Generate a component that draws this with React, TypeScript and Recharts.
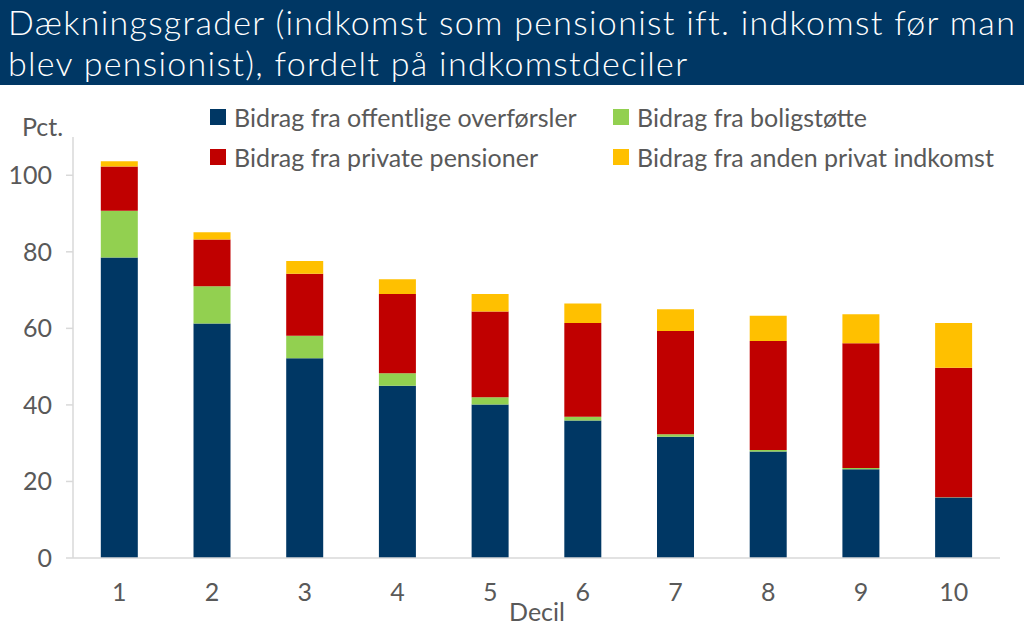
import React from 'react';
import { BarChart, Bar, XAxis, YAxis } from 'recharts';

const deciles = ['1', '2', '3', '4', '5', '6', '7', '8', '9', '10'];
const offentlige = [78.5, 61.3, 52.2, 45.0, 40.1, 35.9, 31.7, 27.8, 23.2, 15.8];
const boligstotte = [12.2, 9.7, 5.9, 3.3, 1.9, 1.0, 0.65, 0.45, 0.3, 0.1];
const privatePension = [11.6, 12.2, 16.2, 20.65, 22.4, 24.5, 26.95, 28.45, 32.6, 33.8];
const andenPrivat = [1.35, 1.9, 3.3, 3.85, 4.55, 5.1, 5.7, 6.6, 7.6, 11.7];
const yTicks = [0, 20, 40, 60, 80, 100];
const boundaryTicks = [0, 1, 2, 3, 4, 5, 6, 7, 8, 9, 10];

const series = [
  { key: 'offentlige', name: 'Bidrag fra offentlige overførsler', color: '#003764' },
  { key: 'boligstotte', name: 'Bidrag fra boligstøtte', color: '#92D050' },
  { key: 'privatePension', name: 'Bidrag fra private pensioner', color: '#C00000' },
  { key: 'andenPrivat', name: 'Bidrag fra anden privat indkomst', color: '#FFC000' },
];

const data = deciles.map((d, i) => ({
  decil: d,
  offentlige: offentlige[i],
  boligstotte: boligstotte[i],
  privatePension: privatePension[i],
  andenPrivat: andenPrivat[i],
}));

const font = 'Lato, "Open Sans", sans-serif';
const textGray = '#595959';
const axisGray = '#d9d9d9';

const legendPos = [
  { left: 210, top: 104 },
  { left: 613, top: 104 },
  { left: 210, top: 144 },
  { left: 613, top: 144 },
];

const titleStyle: React.CSSProperties = {
  position: 'absolute', left: 8, color: '#fff', fontSize: 34,
  fontWeight: 300, letterSpacing: 1.3, whiteSpace: 'nowrap',
};

const App: React.FC = () => {
  return (
    <div style={{ position: 'absolute', left: 0, top: 0, width: 1024, height: 632, background: '#fff', fontFamily: font, overflow: 'hidden' }}>
      <div style={{ position: 'absolute', left: 0, top: 0, width: 1024, height: 85, background: '#003764' }} />
      <div style={{ ...titleStyle, top: 1 }}>Dækningsgrader (indkomst som pensionist ift. indkomst før man</div>
      <div style={{ ...titleStyle, top: 42 }}>blev pensionist), fordelt på indkomstdeciler</div>

      {series.map((s, i) => (
        <div key={s.key} style={{ position: 'absolute', left: legendPos[i].left, top: legendPos[i].top, display: 'flex', alignItems: 'center', fontSize: 25, color: textGray, height: 26, whiteSpace: 'nowrap' }}>
          <span style={{ width: 16, height: 16, background: s.color, display: 'inline-block', marginRight: 8 }} />
          {s.name}
        </div>
      ))}

      <div style={{ position: 'absolute', left: 22, top: 111, fontSize: 25, color: textGray }}>Pct.</div>
      <div style={{ position: 'absolute', left: 0, width: 1074, top: 596, fontSize: 25, color: textGray, textAlign: 'center' }}>Decil</div>

      <div style={{ position: 'absolute', left: 0, top: 0 }}>
        <BarChart
          width={1024}
          height={632}
          data={data}
          margin={{ top: 137, right: 24, bottom: 0, left: 0 }}
          barCategoryGap="30%"
        >
          <XAxis
            xAxisId="bounds"
            type="number"
            domain={[0, 10]}
            ticks={boundaryTicks}
            height={0}
            tick={false}
            tickSize={8}
            tickLine={{ stroke: axisGray, strokeWidth: 1.5 }}
            axisLine={false}
          />
          <XAxis
            xAxisId="cat"
            dataKey="decil"
            height={74}
            tickLine={false}
            tickSize={8}
            tickMargin={17}
            axisLine={{ stroke: axisGray, strokeWidth: 1.5 }}
            tick={{ fill: textGray, fontSize: 25, fontFamily: font }}
            interval={0}
          />
          <YAxis
            width={73}
            domain={[0, 110]}
            ticks={yTicks}
            tickSize={7}
            tickMargin={14}
            axisLine={{ stroke: axisGray, strokeWidth: 1.5 }}
            tickLine={{ stroke: axisGray, strokeWidth: 1.5 }}
            tick={{ fill: textGray, fontSize: 25, fontFamily: font }}
          />
          {series.map((s) => (
            <Bar
              key={s.key}
              xAxisId="cat"
              dataKey={s.key}
              name={s.name}
              stackId="a"
              fill={s.color}
              isAnimationActive={false}
            />
          ))}
        </BarChart>
      </div>
    </div>
  );
};

export default App;
